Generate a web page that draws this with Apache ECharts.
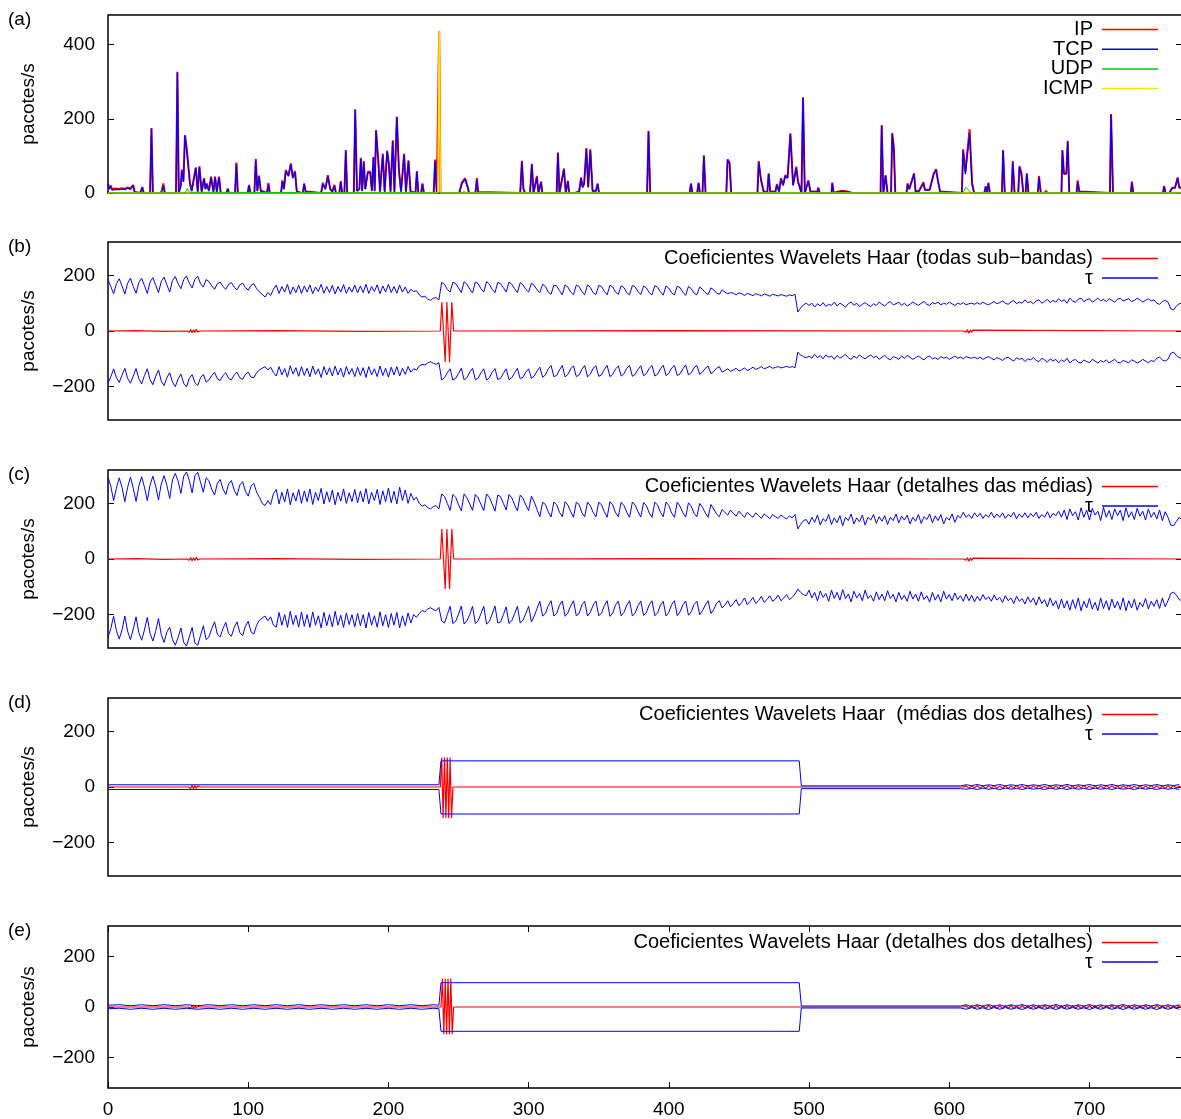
<!DOCTYPE html>
<html>
<head>
<meta charset="utf-8">
<script src="https://cdn.jsdelivr.net/npm/echarts@6/dist/echarts.min.js"></script>
<style>
  html, body { margin: 0; padding: 0; background: #fff; }
  #chart { width: 1181px; height: 1119px; }
</style>
</head>
<body>
<div id="chart"></div>
<script>
// ---------------- axes ----------------
const X_MAX = 766;
const X_TICKS = [0, 100, 200, 300, 400, 500, 600, 700];
const Y_TICKS_TRAFFIC = [0, 200, 400];
const Y_TICKS_COEF = [-200, 0, 200];
const BAND_STEP = 2;   // thresholds sampled every 2 s

// ---------------- (a) traffic, packets/s : [time, value] vertices ----------------
const IP = [[0,26],[1,12],[2,20],[3,10],[5,12],[8,11],[10,13],[12,11],[14,15],[16,12],[18,22],[19,3],[23,0],[24.5,16],[25.5,0],[30,0],[31,175],[32,0],[38,0],[39.5,26],[40.5,0],[48.5,0],[49.5,327],[50.5,0],[52,22],[52.6,63],[53.8,32],[54.9,156],[56,126],[57.3,122],[58.5,26],[59.7,6],[62.6,69],[64,4],[65.2,72],[66.8,4],[68.5,40],[69.5,11],[70.4,26],[72,6],[73.5,44],[75.2,4],[76.4,44],[77.6,4],[79.2,44],[80.4,0],[84.5,0],[85.4,12],[86.3,0],[90.6,0],[91.6,82],[92.6,0],[99.6,0],[100.6,22],[101.6,0],[104.4,0],[105.4,92],[106.5,6],[107.7,47],[109,6],[113.4,0],[114.4,27],[115.4,0],[123.4,0],[124.4,34],[125.5,11],[126.8,62],[128.7,47],[130.4,80],[131.8,42],[133.4,59],[134.6,6],[135.5,0],[139,0],[139.9,26],[141,4],[152,0],[153.2,27],[155,11],[156.8,48],[158.5,11],[160,4],[161.5,22],[162.5,0],[165,0],[166,32],[167,0],[168.6,0],[169.6,116],[170.6,0],[175.3,0],[176.3,226],[177.6,6],[179.3,11],[180.3,95],[181.3,6],[182.4,86],[183.5,11],[185.3,57],[187,57],[188.2,6],[189.3,97],[190.2,6],[191.2,170],[192.9,80],[194,4],[196,106],[197.3,4],[199.1,114],[200.3,80],[201.5,4],[203.1,142],[204.3,4],[206,206],[207.5,62],[209,4],[211.2,106],[212.5,4],[214.3,88],[215.8,4],[219.3,0],[220.3,59],[221.3,0],[223.3,0],[224.3,26],[225.3,0],[232.3,0],[233.3,90],[234.5,0],[235.3,0],[236.2,436],[237.1,0],[250.5,0],[252.4,28],[254.7,40],[256.5,17],[257.5,0],[262,0],[263.1,40],[264,3],[265,0],[294,0],[295.2,87],[296.3,11],[297.5,0],[301,0],[302.3,79],[303.5,0],[305.9,46],[307,0],[308.9,31],[309.8,0],[320,0],[320.9,109],[322,0],[325.2,66],[326.5,0],[328,33],[329,0],[333,0],[334,4],[336,4],[337.4,42],[338.5,16],[339.6,26],[341.2,121],[342.5,16],[344,118],[345.6,6],[347,8],[348,6],[349.2,26],[350.2,0],[384.5,0],[385.5,168],[386.7,0],[414.8,0],[415.8,26],[416.8,0],[420.2,0],[421.2,28],[422.2,0],[424,0],[425,102],[426.2,0],[439,0],[440,4],[441,0],[441.9,91],[443.3,82],[444.5,0],[463.2,0],[464.1,86],[465.7,37],[467.5,6],[470.2,0],[471.2,53],[472.3,4],[476,4],[477.1,24],[478.6,4],[480,40],[481.5,22],[483.1,48],[484.7,42],[486.7,161],[488.6,22],[490.9,71],[492.1,32],[493.3,37],[494.6,0],[495.7,258],[497,0],[499.5,34],[501,4],[506,4],[506.6,15],[507.6,0],[516,0],[516.6,28],[517.6,0],[521,4],[524,6],[527,4],[528,6],[531,0],[551,0],[551.8,183],[553,0],[554.6,48],[556,0],[558.5,0],[559.3,162],[560.5,122],[561.5,0],[569.5,0],[570.3,26],[571.5,11],[574.9,53],[576,4],[578.5,6],[581.6,29],[582.6,9],[586,9],[589,53],[590.6,64],[592,32],[593.5,4],[609,0],[609.9,118],[611.5,58],[612.5,62],[614.5,172],[616.3,28],[617.8,0],[625,0],[626,18],[627,0],[627.9,28],[629,0],[637.6,0],[638.4,116],[639.6,0],[644.4,0],[645.3,86],[646.6,0],[649.2,0],[650.1,73],[651.5,53],[652.8,0],[654.5,0],[655.3,53],[656.5,0],[663.2,0],[664,46],[665.3,0],[668,0],[669,6],[670,0],[680,0],[680.7,116],[681.8,53],[683.5,53],[684.5,141],[685.6,0],[690.8,0],[691.6,34],[692.8,4],[714.6,0],[715.4,213],[716.8,0],[729.5,0],[730.2,31],[731.3,0],[752.5,0],[753.2,19],[754.3,0],[757,0],[759,14],[761,14],[762.9,42],[764,15],[766,15]];

const TCP = [[0,24],[1,10],[2,18],[3,8],[5,10],[8,9],[10,11],[12,9],[14,13],[16,10],[18,20],[19,2],[23,0],[24.5,15],[25.5,0],[30,0],[31,173],[32,0],[38,0],[39.5,20],[40.5,0],[48.5,0],[49.5,325],[50.5,0],[52,20],[52.6,59],[53.8,30],[54.9,154],[56,120],[57.3,115],[58.5,22],[59.7,5],[62.6,67],[64,3],[65.2,70],[66.8,3],[68.5,38],[69.5,10],[70.4,24],[72,5],[73.5,42],[75.2,3],[76.4,42],[77.6,3],[79.2,42],[80.4,0],[84.5,0],[85.4,10],[86.3,0],[90.6,0],[91.6,78],[92.6,0],[99.6,0],[100.6,20],[101.6,0],[104.4,0],[105.4,87],[106.5,5],[107.7,45],[109,5],[113.4,0],[114.4,24],[115.4,0],[123.4,0],[124.4,32],[125.5,10],[126.8,59],[128.7,45],[130.4,78],[131.8,40],[133.4,57],[134.6,5],[135.5,0],[139,0],[139.9,24],[141,3],[152,0],[153.2,24],[155,10],[156.8,45],[158.5,10],[160,3],[161.5,20],[162.5,0],[165,0],[166,30],[167,0],[168.6,0],[169.6,114],[170.6,0],[175.3,0],[176.3,224],[177.6,5],[179.3,10],[180.3,92],[181.3,5],[182.4,83],[183.5,10],[185.3,55],[187,55],[188.2,5],[189.3,95],[190.2,5],[191.2,168],[192.9,78],[194,3],[196,104],[197.3,3],[199.1,112],[200.3,78],[201.5,3],[203.1,140],[204.3,3],[206,204],[207.5,60],[209,3],[211.2,104],[212.5,3],[214.3,86],[215.8,3],[219.3,0],[220.3,57],[221.3,0],[223.3,0],[224.3,24],[225.3,0],[232.3,0],[233.3,86],[234.5,0],[250.5,0],[252.4,25],[254.7,37],[256.5,15],[257.5,0],[262,0],[263.1,35],[264,0],[294,0],[295.2,85],[296.3,10],[297.5,0],[301,0],[302.3,77],[303.5,0],[305.9,42],[307,0],[308.9,29],[309.8,0],[320,0],[320.9,107],[322,0],[325.2,64],[326.5,0],[328,31],[329,0],[333,0],[334,3],[336,3],[337.4,40],[338.5,15],[339.6,24],[341.2,118],[342.5,15],[344,116],[345.6,5],[348,5],[349.2,24],[350.2,0],[384.5,0],[385.5,166],[386.7,0],[414.8,0],[415.8,24],[416.8,0],[420.2,0],[421.2,26],[422.2,0],[424,0],[425,100],[426.2,0],[441,0],[441.9,89],[443.3,80],[444.5,0],[463.2,0],[464.1,83],[465.7,35],[467.5,5],[470.2,0],[471.2,51],[472.3,3],[476,3],[477.1,22],[478.6,3],[480,38],[481.5,20],[483.1,46],[484.7,40],[486.7,159],[488.6,20],[490.9,68],[492.1,30],[493.3,35],[494.6,0],[495.7,256],[497,0],[499.5,32],[501,3],[506,3],[506.6,13],[507.6,0],[516,0],[516.6,26],[517.6,0],[521,3],[524,5],[527,3],[528,5],[531,0],[551,0],[551.8,181],[553,0],[554.6,46],[556,0],[558.5,0],[559.3,158],[560.5,120],[561.5,0],[569.5,0],[570.3,24],[571.5,10],[574.9,51],[576,3],[578.5,5],[581.6,27],[582.6,8],[586,8],[589,51],[590.6,62],[592,30],[593.5,3],[609,0],[609.9,114],[611.5,51],[612.5,51],[614.5,161],[616.3,20],[617.8,0],[625,0],[626,16],[627,0],[627.9,26],[629,0],[637.6,0],[638.4,114],[639.6,0],[644.4,0],[645.3,82],[646.6,0],[649.2,0],[650.1,70],[651.5,51],[652.8,0],[654.5,0],[655.3,51],[656.5,0],[663.2,0],[664,42],[665.3,0],[668,0],[669,5],[670,0],[680,0],[680.7,114],[681.8,51],[683.5,51],[684.5,139],[685.6,0],[690.8,0],[691.6,28],[692.8,3],[714.6,0],[715.4,211],[716.8,0],[729.5,0],[730.2,27],[731.3,0],[752.5,0],[753.2,17],[754.3,0],[757,0],[759,13],[761,13],[762.9,40],[764,14],[766,14]];

const UDP = [[0,0],[37,0],[38,8],[39,0],[55,0],[56.5,12],[58,2],[59,0],[252,0],[254,4],[256,0],[609,0],[610.5,4],[611.5,15],[613,12],[614,16],[615.5,0],[766,0]];

const ICMP = [[0,0],[235.3,0],[236.2,436],[237.1,0],[766,0]];

// ---------------- (b) all sub-bands ----------------
const COEF_B = [[0,0],[20,1],[40,-1],[56,0],[57,3],[58,-4],[59,5],[60,-6],[61,4],[62,-5],[63,6],[64,-3],[65,2],[66,0],[120,1],[180,-1],[237,0],[238.1,104],[240.5,-112],[241.7,104],[243.6,-112],[245.2,104],[246.5,0],[400,1],[610,0],[611,3],[612,-4],[613,5],[614,-8],[615,4],[616,-5],[617,3],[618,0],[766,0]];

const TAU_B_UPPER = [
  184,160,134,170,188,162,133,172,190,160,
  136,174,190,163,135,176,192,165,138,178,
  194,166,140,182,196,170,152,185,198,172,
  155,186,197,170,158,185,178,162,150,170,
  176,160,150,168,174,158,148,166,172,156,
  147,164,170,152,140,132,122,138,128,150,
  165,135,160,140,168,132,158,138,165,135,
  162,140,166,134,158,142,168,136,160,138,
  164,133,160,140,167,135,158,140,165,137,
  162,138,168,135,160,142,166,134,162,140,
  168,138,160,136,165,140,158,135,150,142,
  145,130,122,125,115,110,118,120,112,175,
  168,150,140,176,170,155,138,177,168,150,
  137,176,170,152,140,178,168,150,138,175,
  170,156,140,176,168,152,138,174,166,150,
  140,172,164,148,138,168,160,140,132,165,
  162,145,130,166,158,140,131,165,160,142,
  130,166,157,138,131,164,160,143,130,165,
  158,140,132,163,156,138,130,164,158,142,
  131,162,155,138,130,163,157,141,129,162,
  154,137,130,161,156,140,128,160,152,136,
  130,158,150,138,131,155,148,136,132,148,
  140,134,138,136,130,137,134,128,135,132,
  127,134,131,126,133,130,125,132,129,126,
  131,128,125,130,127,132,68,82,94,100,
  92,100,86,98,90,102,88,96,92,104,
  90,100,94,86,98,104,92,100,88,96,
  102,94,88,98,92,104,96,90,100,106,
  94,98,104,92,100,90,96,104,98,92,
  100,106,96,92,102,98,104,94,100,96,
  104,98,92,100,96,102,94,98,100,96,
  102,96,104,98,94,100,106,98,102,108,
  100,96,104,110,98,104,100,112,102,106,
  98,108,112,100,106,114,102,110,104,116,
  106,112,100,118,108,104,114,118,106,112,
  116,104,110,118,108,114,106,116,110,104,
  114,118,108,112,116,106,110,118,112,104,
  110,116,108,112,100,96,106,110,104,80,
  76,90,98,100
];

const TAU_B_LOWER = [
  -187,-165,-136,-168,-185,-158,-134,-170,-188,-162,
  -135,-172,-190,-160,-136,-175,-193,-163,-140,-180,
  -196,-168,-150,-184,-200,-172,-155,-188,-201,-170,
  -157,-186,-196,-168,-156,-184,-176,-160,-148,-172,
  -178,-160,-150,-170,-176,-158,-148,-168,-174,-156,
  -148,-166,-168,-150,-140,-134,-128,-140,-130,-150,
  -162,-128,-158,-135,-166,-125,-155,-132,-163,-128,
  -160,-134,-165,-126,-156,-136,-167,-128,-158,-132,
  -162,-126,-158,-134,-166,-128,-156,-135,-164,-130,
  -160,-132,-167,-128,-158,-136,-164,-126,-160,-134,
  -166,-130,-158,-128,-162,-134,-156,-128,-148,-136,
  -140,-126,-120,-122,-115,-110,-116,-120,-114,-176,
  -168,-150,-136,-177,-170,-152,-134,-176,-168,-148,
  -134,-175,-170,-150,-136,-177,-168,-148,-135,-174,
  -170,-152,-136,-175,-168,-150,-134,-172,-166,-148,
  -136,-170,-162,-144,-130,-166,-158,-136,-124,-164,
  -160,-140,-124,-165,-156,-136,-125,-164,-158,-138,
  -124,-165,-155,-134,-125,-163,-158,-138,-124,-164,
  -156,-136,-126,-162,-154,-134,-124,-163,-156,-138,
  -125,-161,-153,-134,-124,-162,-155,-136,-123,-160,
  -152,-133,-124,-160,-154,-136,-122,-158,-150,-132,
  -124,-156,-148,-134,-126,-153,-146,-134,-128,-148,
  -142,-136,-145,-140,-134,-144,-139,-133,-142,-137,
  -130,-138,-134,-128,-136,-132,-127,-134,-131,-128,
  -133,-130,-127,-131,-128,-132,-76,-86,-92,-96,
  -90,-98,-84,-96,-88,-100,-86,-94,-90,-102,
  -88,-98,-92,-84,-96,-102,-90,-98,-86,-94,
  -100,-92,-86,-96,-90,-102,-94,-88,-98,-104,
  -92,-96,-102,-90,-98,-88,-94,-102,-96,-90,
  -98,-104,-94,-90,-100,-96,-102,-92,-98,-94,
  -102,-96,-90,-98,-94,-100,-92,-96,-98,-94,
  -100,-94,-102,-96,-92,-98,-104,-96,-100,-106,
  -98,-94,-102,-108,-96,-102,-98,-110,-100,-104,
  -96,-106,-110,-98,-104,-112,-100,-108,-102,-114,
  -104,-110,-98,-115,-106,-102,-112,-115,-104,-110,
  -114,-102,-108,-115,-106,-112,-104,-114,-108,-102,
  -112,-115,-106,-110,-114,-104,-108,-115,-110,-102,
  -108,-114,-106,-110,-98,-94,-104,-108,-102,-80,
  -76,-88,-96,-98
];

// ---------------- (c) details of the averages ----------------
const COEF_C = [[0,0],[20,1],[40,-1],[56,0],[57,3],[58,-4],[59,5],[60,-6],[61,4],[62,-5],[63,6],[64,-3],[65,2],[66,0],[120,1],[180,-1],[237,0],[238.1,108],[240.5,-108],[241.7,108],[243.6,-108],[245.2,108],[246.5,0],[400,1],[610,0],[611,3],[612,-4],[613,5],[614,-8],[615,4],[616,-5],[617,3],[618,0],[766,0]];

const TAU_C_UPPER = [
  295,262,210,255,292,258,206,258,294,255,
  207,262,296,258,210,266,298,262,212,270,
  300,265,218,285,308,280,236,298,313,282,
  238,300,312,276,240,292,282,250,230,272,
  286,252,232,270,282,248,228,266,278,244,
  226,262,272,240,222,200,192,210,195,235,
  250,198,240,205,252,195,238,208,250,200,
  245,206,252,196,240,210,254,198,242,205,
  248,195,240,208,252,200,238,206,250,202,
  244,205,253,198,240,210,250,196,245,206,
  255,202,244,198,258,210,248,200,236,212,
  222,200,190,195,185,180,188,192,180,234,
  225,200,175,232,222,195,173,234,220,198,
  175,232,220,196,174,234,222,198,172,230,
  224,200,176,232,220,195,173,230,218,194,
  174,226,205,178,152,204,196,170,151,205,
  195,168,152,206,194,170,150,204,196,166,
  152,205,192,168,151,204,195,170,150,206,
  194,166,152,204,192,168,150,205,194,170,
  151,203,192,166,150,204,194,168,152,205,
  192,165,150,204,190,166,151,202,190,164,
  152,200,186,166,150,196,180,162,152,178,
  168,158,176,164,154,172,160,150,168,158,
  150,166,156,146,162,154,145,160,152,146,
  158,150,144,155,148,160,108,125,138,142,
  125,150,132,158,122,145,135,160,124,148,
  130,156,120,150,138,162,126,148,134,158,
  122,150,140,160,128,152,136,156,124,150,
  138,162,130,154,140,158,126,150,136,160,
  128,152,142,162,130,155,138,160,126,150,
  140,162,132,156,148,168,150,160,146,166,
  152,164,146,160,150,168,148,162,150,166,
  146,160,152,168,145,162,150,166,148,164,
  152,168,146,160,150,170,148,164,156,172,
  150,176,142,180,156,170,140,184,150,176,
  140,182,158,172,138,186,150,174,142,180,
  156,176,138,184,150,170,142,182,154,172,
  140,180,150,168,144,176,138,170,150,122,
  120,135,150,140
];

const TAU_C_LOWER = [
  -281,-250,-206,-258,-288,-255,-205,-260,-290,-252,
  -208,-265,-292,-255,-210,-268,-295,-260,-214,-272,
  -300,-262,-245,-290,-310,-282,-248,-300,-313,-280,
  -246,-302,-310,-275,-240,-290,-280,-250,-226,-270,
  -280,-250,-228,-268,-278,-246,-226,-264,-276,-242,
  -224,-262,-270,-238,-220,-212,-205,-222,-208,-238,
  -245,-192,-238,-200,-246,-188,-236,-202,-245,-190,
  -242,-200,-246,-190,-238,-204,-248,-192,-240,-200,
  -244,-188,-238,-202,-246,-194,-236,-200,-244,-196,
  -240,-200,-248,-192,-238,-204,-245,-190,-240,-200,
  -246,-196,-238,-192,-248,-204,-240,-194,-230,-200,
  -210,-196,-185,-190,-180,-175,-182,-186,-174,-223,
  -230,-200,-170,-232,-224,-198,-169,-234,-222,-200,
  -170,-232,-222,-196,-170,-234,-224,-198,-169,-230,
  -226,-200,-172,-232,-222,-196,-170,-230,-220,-196,
  -170,-226,-205,-178,-152,-205,-196,-168,-150,-205,
  -196,-166,-151,-206,-194,-168,-150,-204,-196,-165,
  -152,-205,-192,-166,-151,-204,-195,-168,-150,-206,
  -194,-165,-152,-204,-192,-166,-150,-205,-194,-168,
  -151,-203,-192,-165,-150,-204,-194,-166,-152,-205,
  -192,-164,-150,-204,-190,-165,-151,-202,-190,-163,
  -152,-200,-186,-165,-150,-196,-182,-160,-150,-176,
  -166,-150,-172,-160,-146,-168,-156,-140,-164,-152,
  -138,-160,-150,-134,-156,-146,-132,-152,-144,-130,
  -150,-140,-128,-146,-138,-126,-108,-120,-128,-132,
  -112,-140,-120,-150,-115,-138,-124,-152,-112,-142,
  -120,-148,-110,-142,-126,-154,-116,-140,-124,-150,
  -112,-142,-130,-152,-118,-146,-126,-150,-114,-142,
  -128,-154,-120,-146,-130,-152,-116,-144,-126,-152,
  -118,-146,-132,-155,-120,-148,-128,-154,-116,-144,
  -128,-150,-122,-146,-132,-152,-126,-150,-130,-154,
  -134,-150,-128,-146,-136,-152,-130,-148,-138,-156,
  -132,-150,-140,-160,-134,-152,-142,-162,-136,-156,
  -140,-166,-136,-160,-146,-172,-140,-168,-150,-180,
  -144,-176,-150,-184,-146,-178,-140,-186,-152,-176,
  -142,-180,-156,-186,-140,-178,-150,-184,-144,-176,
  -152,-182,-140,-186,-150,-176,-144,-184,-156,-172,
  -142,-180,-152,-170,-146,-178,-140,-172,-150,-124,
  -119,-130,-146,-150
];

// ---------------- (d) averages of the details ----------------
const COEF_D = [[0,0],[57,0],[58,4],[59,-5],[60,6],[61,-6],[62,5],[63,-5],[64,4],[65,-3],[66,0],[237,0],[238,106],[239,-111],[240,106],[241,-111],[242,106],[243,-111],[244,106],[245,-111],[246,0],[610,0]];
const COEF_D_TAIL = [
  4,-5,5,-4,6,-5,4,-6,5,-4,6,-5,4,-5,5,-6,4,-5,6,-4,
  5,-5,4,-6,5,-4,6,-5,4,-5,5,-6,4,-5,6,-4,5,-5,4,-6,
  5,-4,6,-5,4,-5,5,-6,4,-5,6,-4,5,-5,4,-6,5,-4,6,-5,
  4,-5,5,-6,4,-5,6,-4,5,-5,4,-6,5,-4,6,-5,4,-5
];
const TAU_D_UPPER = [[0,8],[236,8],[237.5,94],[493,94],[494.5,4],[608,4]];
const TAU_D_UPPER_TAIL = [8,5,9,4,8,5,9,4,8,5,9,4,8,5,9,4,8,5,9,4,8,5,9,4,8,5,9,4,8,5,9,4,8,5,9,4,8,5,9];
const TAU_D_LOWER = [[0,-9],[236,-9],[237.5,-97],[493,-97],[494.5,-6],[608,-6]];
const TAU_D_LOWER_TAIL = [-8,-5,-9,-4,-8,-5,-9,-4,-8,-5,-9,-4,-8,-5,-9,-4,-8,-5,-9,-4,-8,-5,-9,-4,-8,-5,-9,-4,-8,-5,-9,-4,-8,-5,-9,-4,-8,-5,-9];

// ---------------- (e) details of the details ----------------
const COEF_E = [[0,0],[57,0],[58,4],[59,-5],[60,6],[61,-6],[62,5],[63,-5],[64,4],[65,-3],[66,0],[237.5,0],[238.5,112],[239.5,-108],[240.5,112],[241.5,-108],[242.5,112],[243.5,-108],[244.5,112],[245.5,-108],[246.5,0],[610,0]];
const COEF_E_TAIL = [
  5,-6,6,-5,6,-6,5,-6,6,-5,6,-6,5,-6,6,-5,6,-6,5,-6,
  6,-5,6,-6,5,-6,6,-5,6,-6,5,-6,6,-5,6,-6,5,-6,6,-5,
  6,-6,5,-6,6,-5,6,-6,5,-6,6,-5,6,-6,5,-6,6,-5,6,-6,
  5,-6,6,-5,6,-6,5,-6,6,-5,6,-6,5,-6,6,-5,6,-6
];
const TAU_E_UPPER = [[0,7],[8,9],[16,5],[24,9],[32,5],[40,9],[48,5],[56,9],[64,5],[72,9],[80,5],[88,9],[96,5],[104,9],[112,5],[120,9],[128,5],[136,9],[144,5],[152,9],[160,5],[168,9],[176,5],[184,9],[192,5],[200,9],[208,5],[216,9],[224,5],[232,9],[236,7],[237.5,96],[493,96],[494.5,4],[608,4]];
const TAU_E_UPPER_TAIL = [9,2,9,3,10,2,9,2,9,3,10,2,9,2,9,3,10,2,9,2,9,3,10,2,9,2,9,3,10,2,9,2,9,3,10,2,9,2,9];
const TAU_E_LOWER = [[0,-7],[8,-5],[16,-9],[24,-5],[32,-9],[40,-5],[48,-9],[56,-5],[64,-9],[72,-5],[80,-9],[88,-5],[96,-9],[104,-5],[112,-9],[120,-5],[128,-9],[136,-5],[144,-9],[152,-5],[160,-9],[168,-5],[176,-9],[184,-5],[192,-9],[200,-5],[208,-9],[216,-5],[224,-9],[232,-5],[236,-7],[237.5,-96],[493,-96],[494.5,-4],[608,-4]];
const TAU_E_LOWER_TAIL = [-9,-2,-9,-3,-10,-2,-9,-2,-9,-3,-10,-2,-9,-2,-9,-3,-10,-2,-9,-2,-9,-3,-10,-2,-9,-2,-9,-3,-10,-2,-9,-2,-9,-3,-10,-2,-9,-2,-9];

// ---------------- texts ----------------
const PANEL_TAGS = ['(a)', '(b)', '(c)', '(d)', '(e)'];
const COEF_NAMES = [
  'Coeficientes Wavelets Haar (todas sub\u2212bandas)',
  'Coeficientes Wavelets Haar (detalhes das médias)',
  'Coeficientes Wavelets Haar  (médias dos detalhes)',
  'Coeficientes Wavelets Haar (detalhes dos detalhes)'
];
const TRAFFIC_NAMES = ['IP', 'TCP', 'UDP', 'ICMP'];
const Y_NAME = 'pacotes/s';

// ---------------- drawing ----------------
const RED = '#ff0000', BLUE = '#0000ff', GREEN = '#00cc00', YELLOW = '#ffe000';
const FONT = '"Liberation Sans", Arial, Helvetica, sans-serif';
const FS = 19;        // axis text
const KEY_FS = 20;    // key text

const sampled = (x0, step, values) => values.map((v, i) => [x0 + i * step, v]);
const minus = v => String(v).replace('-', '\u2212');

const LAYOUT = [
  { top: 15,  height: 178, min: 0,    max: 480, ticks: Y_TICKS_TRAFFIC },
  { top: 242, height: 178, min: -320, max: 320, ticks: Y_TICKS_COEF },
  { top: 470, height: 178, min: -320, max: 320, ticks: Y_TICKS_COEF },
  { top: 698, height: 178, min: -320, max: 320, ticks: Y_TICKS_COEF },
  { top: 926, height: 162, min: -320, max: 320, ticks: Y_TICKS_COEF }
];
const LEFT = 108, WIDTH = 1074;

const grids = LAYOUT.map(l => ({
  left: LEFT, top: l.top, width: WIDTH, height: l.height,
  show: true, borderColor: '#000', borderWidth: 1.5,
  backgroundColor: 'transparent', outerBoundsMode: 'none'
}));

const tickStyle = { color: '#000', width: 1 };
const xAxes = LAYOUT.map((l, i) => ({
  type: 'value', gridIndex: i, position: 'bottom', min: 0, max: X_MAX,
  axisLine: { show: false, onZero: false }, splitLine: { show: false },
  axisTick: { show: i === 4, inside: true, length: 6, customValues: X_TICKS, lineStyle: tickStyle },
  axisLabel: { show: i === 4, customValues: X_TICKS, margin: 12,
               color: '#000', fontFamily: FONT, fontSize: FS }
}));
// mirrored ticks on the top edge of the last panel
xAxes.push({
  type: 'value', gridIndex: 4, position: 'top', min: 0, max: X_MAX,
  axisLine: { show: false, onZero: false }, splitLine: { show: false },
  axisTick: { show: true, inside: true, length: 6, customValues: X_TICKS, lineStyle: tickStyle },
  axisLabel: { show: false }
});

const yAxes = LAYOUT.map((l, i) => ({
  type: 'value', gridIndex: i, position: 'left', min: l.min, max: l.max,
  name: Y_NAME, nameLocation: 'middle', nameGap: 70, nameRotate: 90,
  nameTextStyle: { color: '#000', fontFamily: FONT, fontSize: FS },
  axisLine: { show: false, onZero: false }, splitLine: { show: false },
  axisTick: { show: true, inside: true, length: 6, customValues: l.ticks, lineStyle: tickStyle },
  axisLabel: { customValues: l.ticks, margin: 13, formatter: minus,
               color: '#000', fontFamily: FONT, fontSize: FS }
}));
LAYOUT.forEach((l, i) => yAxes.push({
  type: 'value', gridIndex: i, position: 'right', min: l.min, max: l.max,
  axisLine: { show: false, onZero: false }, splitLine: { show: false },
  axisTick: { show: true, inside: true, length: 6, customValues: l.ticks, lineStyle: tickStyle },
  axisLabel: { show: false }
}));

function line(name, data, panel, color, width, z) {
  return {
    type: 'line', name, data, xAxisIndex: panel, yAxisIndex: panel,
    showSymbol: false, symbol: 'none', silent: true, animation: false,
    lineStyle: { color, width }, itemStyle: { color }, z: z || 2
  };
}

const series = [
  line('IP', IP, 0, RED, 2, 2),
  line('TCP', TCP, 0, BLUE, 1.3, 3),
  line('ICMP', ICMP, 0, YELLOW, 1.6, 4),
  line('UDP', UDP, 0, GREEN, 1, 5),

  line(COEF_NAMES[0], COEF_B, 1, RED, 1.2, 2),
  line('\u03c4', sampled(0, BAND_STEP, TAU_B_UPPER), 1, BLUE, 1, 3),
  line('\u03c4', sampled(0, BAND_STEP, TAU_B_LOWER), 1, BLUE, 1, 3),

  line(COEF_NAMES[1], COEF_C, 2, RED, 1.2, 2),
  line('\u03c4', sampled(0, BAND_STEP, TAU_C_UPPER), 2, BLUE, 1, 3),
  line('\u03c4', sampled(0, BAND_STEP, TAU_C_LOWER), 2, BLUE, 1, 3),

  line(COEF_NAMES[2], COEF_D.concat(sampled(612, 2, COEF_D_TAIL)), 3, RED, 1.2, 2),
  line('\u03c4', TAU_D_UPPER.concat(sampled(612, 4, TAU_D_UPPER_TAIL)), 3, BLUE, 1, 3),
  line('\u03c4', TAU_D_LOWER.concat(sampled(612, 4, TAU_D_LOWER_TAIL)), 3, BLUE, 1, 3),

  line(COEF_NAMES[3], COEF_E.concat(sampled(612, 2, COEF_E_TAIL)), 4, RED, 1.2, 2),
  line('\u03c4', TAU_E_UPPER.concat(sampled(612, 4, TAU_E_UPPER_TAIL)), 4, BLUE, 1, 3),
  line('\u03c4', TAU_E_LOWER.concat(sampled(612, 4, TAU_E_LOWER_TAIL)), 4, BLUE, 1, 3)
];

// key entries: right-aligned text followed by a short line sample
const KEY_TEXT_X = 1093, KEY_LINE_X1 = 1102, KEY_LINE_X2 = 1158;
const graphics = [];
function keyEntry(label, color, y) {
  graphics.push({
    type: 'text', x: KEY_TEXT_X, y, silent: true,
    style: { text: label, fill: '#000', font: KEY_FS + 'px ' + FONT,
             align: 'right', verticalAlign: 'middle' }
  });
  graphics.push({
    type: 'line', silent: true,
    shape: { x1: KEY_LINE_X1, y1: y, x2: KEY_LINE_X2, y2: y },
    style: { stroke: color, lineWidth: 1.5 }
  });
}
const TRAFFIC_COLORS = [RED, BLUE, GREEN, YELLOW];
TRAFFIC_NAMES.forEach((n, i) => keyEntry(n, TRAFFIC_COLORS[i], 29.5 + i * 19.7));
COEF_NAMES.forEach((n, i) => {
  const top = LAYOUT[i + 1].top;
  keyEntry(n, RED, top + 16.5);
  keyEntry('\u03c4', BLUE, top + 36);
});
PANEL_TAGS.forEach((t, i) => graphics.push({
  type: 'text', x: 8, y: LAYOUT[i].top + 4.5, silent: true,
  style: { text: t, fill: '#000', font: FS + 'px ' + FONT,
           align: 'left', verticalAlign: 'middle' }
}));

const chart = echarts.init(document.getElementById('chart'), null, { renderer: 'canvas' });
chart.setOption({
  animation: false,
  backgroundColor: '#fff',
  grid: grids,
  xAxis: xAxes,
  yAxis: yAxes,
  series,
  graphic: graphics
});
</script>
</body>
</html>
